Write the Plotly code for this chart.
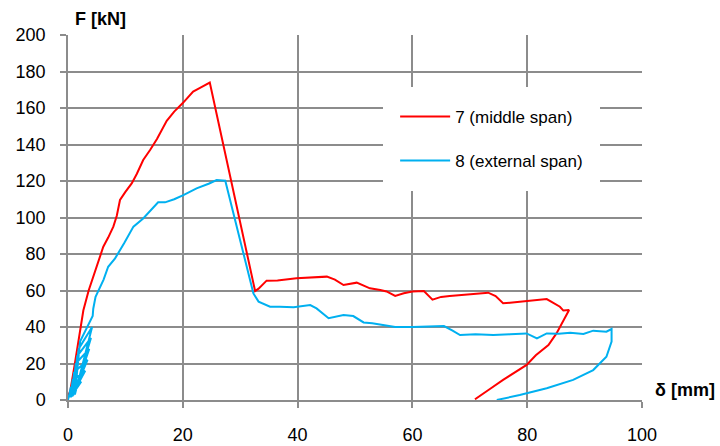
import plotly.graph_objects as go

# Specimen 7 (middle span)
x7 = [0.0, 0.4, 1.2, 2.15, 2.67, 3.6, 4.4, 5.2, 6.15, 7.0, 7.9, 8.5, 9.06, 10.0, 11.1, 12.0,
      13.1, 14.3, 15.5, 17.2, 18.5, 20.0, 21.0, 21.8, 23.0, 23.9, 24.7,
      32.6, 33.2, 34.6, 36.5, 39.8, 42.0, 45.1, 46.5, 48.0, 50.3, 52.6, 54.4, 55.5, 57.0,
      58.5, 60.0, 62.0, 63.5, 65.0, 66.5, 68.3, 70.5, 73.2, 74.5, 75.8, 77.0, 80.0, 83.4,
      85.7, 86.3, 87.3, 85.1, 83.7, 81.5, 79.9, 77.5, 75.8, 73.5, 70.9]
y7 = [2.0, 5.0, 20.0, 40.0, 49.0, 60.0, 67.6, 75.0, 84.0, 89.0, 95.0, 101.0, 109.6, 114.0, 118.7, 124.0,
      131.5, 137.0, 143.0, 153.0, 158.0, 162.7, 166.5, 169.0, 171.0, 172.6, 173.9,
      59.7, 61.0, 65.4, 65.5, 66.7, 67.0, 67.6, 66.0, 63.0, 64.3, 61.2, 60.3, 59.5, 57.0,
      58.5, 59.5, 59.7, 55.0, 56.5, 57.0, 57.5, 57.8, 58.8, 57.0, 53.0, 53.3, 54.3, 55.3,
      51.1, 49.0, 49.3, 36.5, 30.1, 24.5, 19.2, 14.5, 11.0, 6.0, 0.4]

# Specimen 8 (external span) - initial load cycles, then monotonic branch
x8 = [0.0, 0.5, 2.3, 0.45, 0.8, 3.0, 0.6, 1.05, 3.4, 0.75, 1.35, 3.7, 0.9, 1.6, 4.0,
      1.05, 1.85, 4.2, 1.2, 2.1, 4.3, 4.4,
      4.8, 5.3, 6.2, 7.0, 8.2, 9.8, 11.4, 13.1, 14.5, 15.7, 16.9, 18.5, 20.1, 22.4,
      24.5, 25.9, 27.4, 32.3, 33.2, 35.2, 36.9, 39.3, 42.2, 43.3, 45.4, 48.0, 49.7,
      51.5, 53.0, 55.0, 57.0, 60.0, 63.0, 65.5, 67.0, 68.3, 71.0, 74.1, 77.0, 79.9,
      81.7, 83.4, 85.5, 87.5, 89.8, 91.5, 93.8, 94.7, 94.7, 93.8, 91.5, 88.0, 83.4,
      78.7, 74.7]
y8 = [0.0, 7.0, 10.0, 1.5, 11.0, 16.0, 2.0, 15.0, 22.0, 2.0, 20.0, 28.0, 2.5, 24.0, 34.0,
      3.0, 28.0, 40.0, 3.0, 32.0, 46.0, 50.0,
      56.6, 60.3, 66.0, 73.0, 77.6, 86.0, 95.0, 99.5, 104.0, 108.3, 108.3, 110.0, 112.3, 116.0,
      118.5, 120.5, 120.2, 58.4, 53.9, 51.1, 51.1, 50.8, 52.0, 50.2, 44.8, 46.6, 46.0,
      42.5, 42.0, 41.0, 40.0, 40.0, 40.3, 40.5, 38.0, 35.6, 36.0, 35.6, 36.0, 36.5,
      33.8, 36.5, 36.3, 36.9, 36.2, 38.0, 37.4, 38.9, 32.0, 23.7, 16.4, 11.0, 6.4,
      2.7, 0.0]

x_ticks = [0, 20, 40, 60, 80, 100]
y_ticks = [0, 20, 40, 60, 80, 100, 120, 140, 160, 180, 200]

FONT = "Liberation Sans, Arial"

fig = go.Figure()
fig.add_trace(go.Scatter(x=x7, y=y7, mode="lines", name="7 (middle span)",
                         line=dict(color="#ff0000", width=2), legendgroup="a"))
fig.add_trace(go.Scatter(x=x8, y=y8, mode="lines", name="8 (external span)",
                         line=dict(color="#00b0f0", width=2), legendgroup="b"))

axis_common = dict(showgrid=True, gridcolor="#8c8c8c", gridwidth=1.5,
                   ticks="outside", ticklen=6, tickcolor="#8c8c8c", tickwidth=1.5,
                   showline=True, linecolor="#8c8c8c", linewidth=1.5,
                   zeroline=False, automargin=False,
                   tickfont=dict(family=FONT, size=18, color="#000"))

fig.update_xaxes(range=[0, 100], tickvals=x_ticks, ticklabelstandoff=12, **axis_common)
fig.update_yaxes(range=[0, 200], tickvals=y_ticks, ticklabelstandoff=11, **axis_common)

fig.update_layout(
    width=720, height=446,
    margin=dict(l=68, r=78, t=35, b=46, autoexpand=False),
    plot_bgcolor="white", paper_bgcolor="white",
    legend=dict(x=0.549, y=0.858, xanchor="left", yanchor="top",
                bgcolor="white", bordercolor="white", borderwidth=12,
                tracegroupgap=19, itemwidth=50,
                traceorder="grouped",
                font=dict(family=FONT, size=17, color="#000")),
    annotations=[
        dict(text="<b>F [kN]</b>", xref="paper", yref="paper", x=0.056, y=1.044,
             xanchor="center", yanchor="middle", showarrow=False,
             font=dict(family=FONT, size=18, color="#000")),
        dict(text="<b>δ [mm]</b>", xref="paper", yref="paper", x=1.075, y=0.027,
             xanchor="center", yanchor="middle", showarrow=False,
             font=dict(family=FONT, size=18, color="#000")),
    ],
)

fig.write_html("out.html")
